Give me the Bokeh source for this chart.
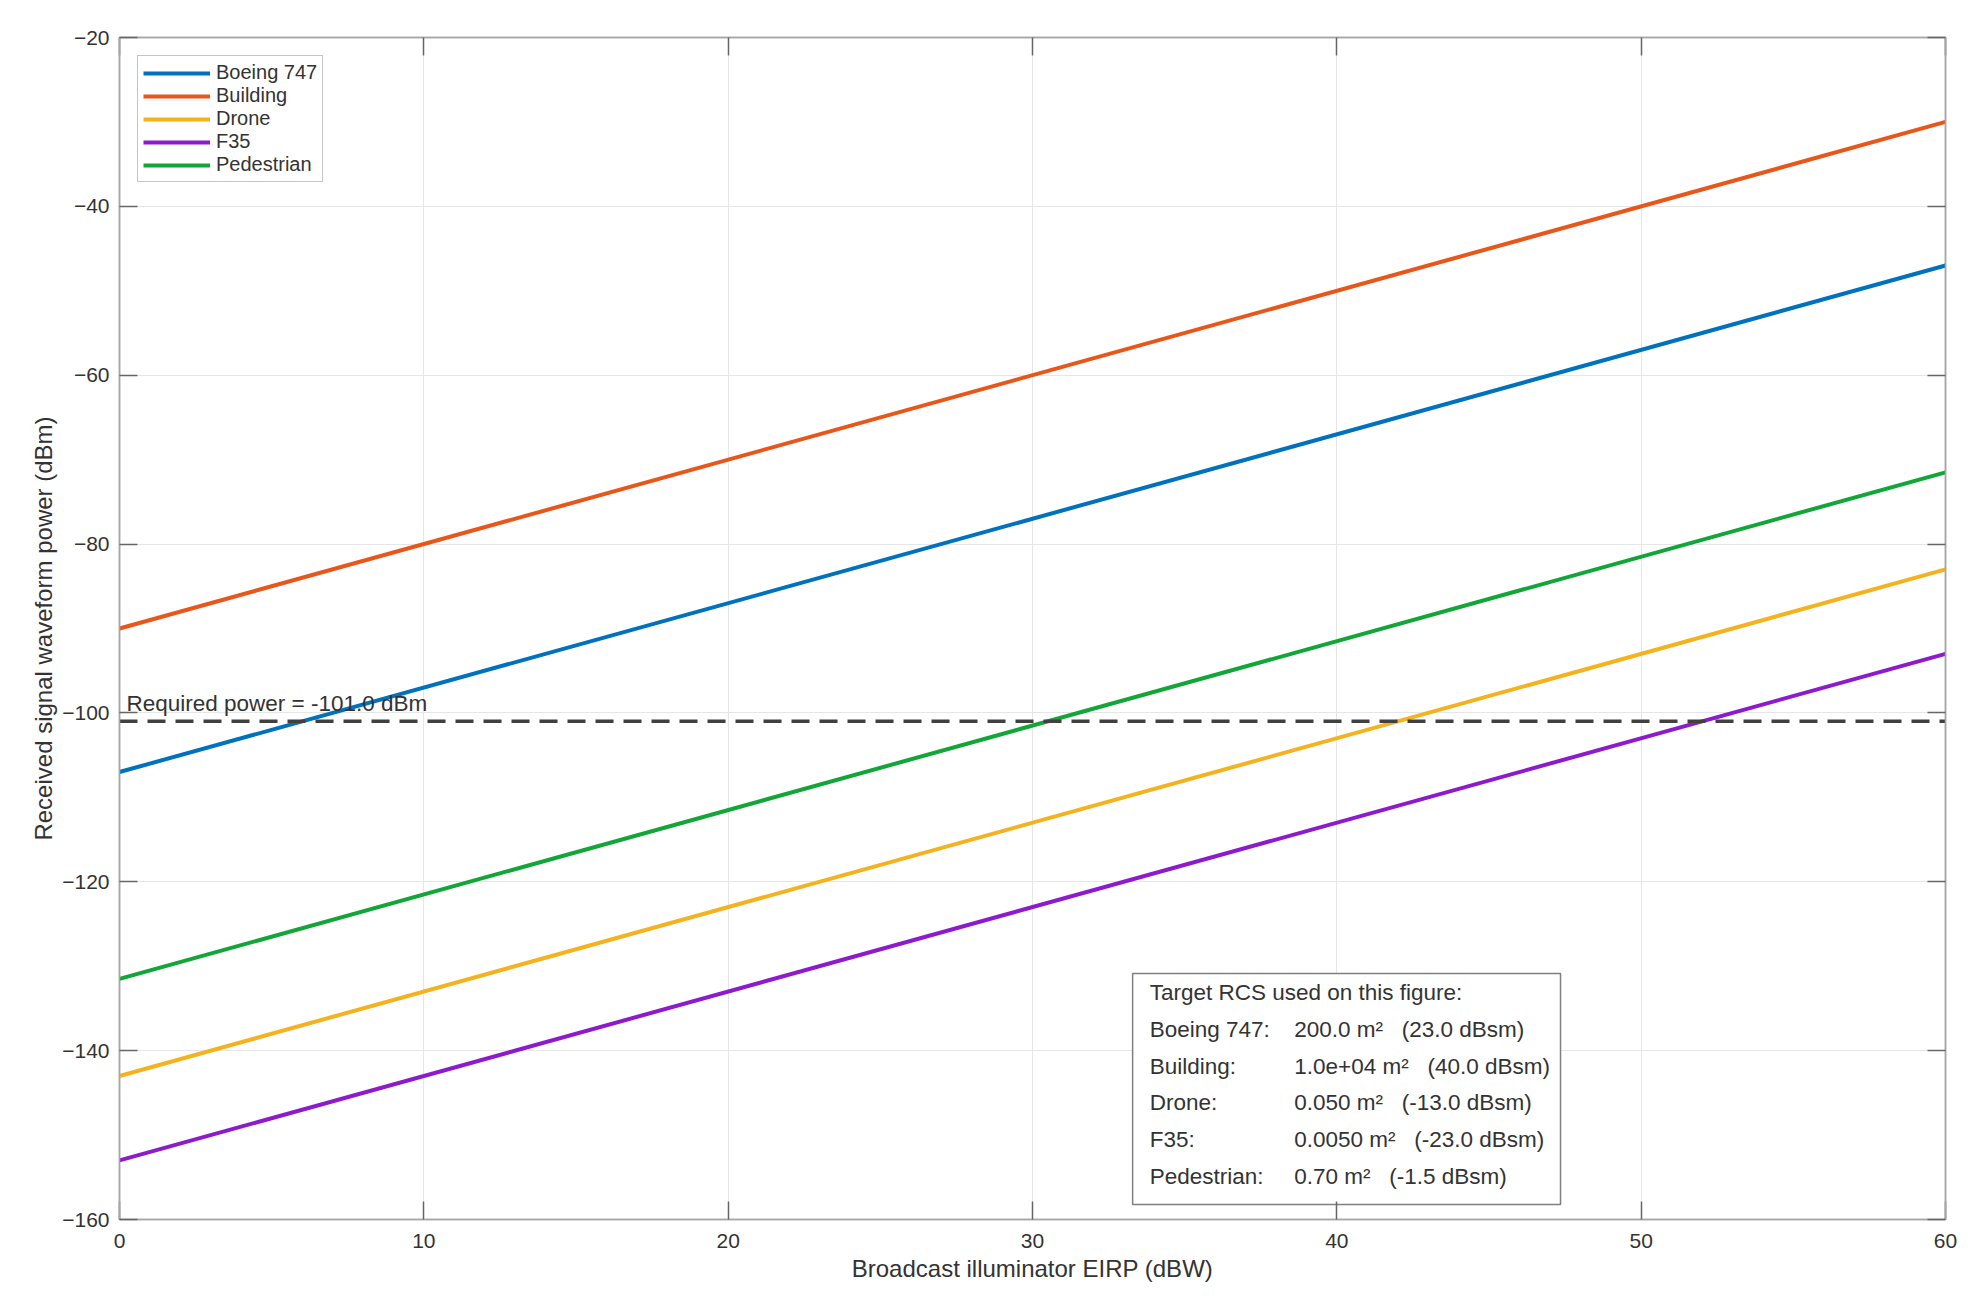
from bokeh.plotting import figure
from bokeh.models import Range1d, FixedTicker, LinearAxis, Legend, LegendItem, CustomJSTickFormatter
from bokeh.core.properties import value
from bokeh.embed import file_html
from bokeh.resources import INLINE

# values
eirp_dbw = [0, 60]
targets = ["Boeing 747", "Building", "Drone", "F35", "Pedestrian"]
boeing_747 = [-107.0, -47.0]
building = [-90.0, -30.0]
drone = [-143.0, -83.0]
f35 = [-153.0, -93.0]
pedestrian = [-131.5, -71.5]
colors = ["#0072BD", "#E8561A", "#F5B21F", "#8E1ACD", "#12A537"]
required_dbm = -101.0

rcs_m2 = ["200.0", "1.0e+04", "0.050", "0.0050", "0.70"]
rcs_dbsm = ["23.0", "40.0", "-13.0", "-23.0", "-1.5"]

xticks = [0, 10, 20, 30, 40, 50, 60]
yticks = [-160, -140, -120, -100, -80, -60, -40, -20]

FONT = "Liberation Sans"
TXT = "#333333"
AX = "#A6A6A6"

p = figure(width=1959, height=1285, x_range=Range1d(0, 60), y_range=Range1d(-160, -20),
           x_axis_label="Broadcast illuminator EIRP (dBW)",
           y_axis_label="Received signal waveform power (dBm)",
           output_backend="svg", toolbar_location=None,
           min_border_left=119, min_border_top=37, min_border_right=14, min_border_bottom=66)
p.outline_line_color = AX
p.outline_line_width = 1.5

for ax in (p.xaxis[0], p.yaxis[0]):
    ax.axis_line_color = AX
    ax.axis_line_width = 1.5
    ax.major_tick_in = 18
    ax.major_tick_out = 0
    ax.minor_tick_line_color = None
    ax.major_tick_line_color = "#666666"
    ax.major_tick_line_width = 1.5
    ax.major_label_text_font = FONT
    ax.major_label_text_font_size = "21px"
    ax.major_label_text_color = TXT
    ax.axis_label_text_font = FONT
    ax.axis_label_text_font_size = "24px"
    ax.axis_label_text_font_style = "normal"
    ax.axis_label_text_color = TXT
p.xaxis.major_label_standoff = 14
p.xaxis.axis_label_standoff = 4
p.yaxis.major_label_standoff = 10
p.yaxis.axis_label_standoff = 2
p.xaxis.ticker = FixedTicker(ticks=xticks)
p.yaxis.ticker = FixedTicker(ticks=yticks)

# tick marks on top and right like a boxed MATLAB axes
for side, ticks in (("above", xticks), ("right", yticks)):
    ax = LinearAxis(ticker=FixedTicker(ticks=ticks),
                    formatter=CustomJSTickFormatter(code="return ''"))
    ax.axis_line_color = AX
    ax.axis_line_width = 1.5
    ax.major_tick_in = 18
    ax.major_tick_out = 0
    ax.minor_tick_line_color = None
    ax.major_tick_line_color = "#666666"
    ax.major_tick_line_width = 1.5
    ax.major_label_text_color = None
    ax.major_label_standoff = 0
    p.add_layout(ax, side)

p.xgrid.ticker = FixedTicker(ticks=xticks)
p.ygrid.ticker = FixedTicker(ticks=yticks)
p.xgrid.grid_line_color = "#E6E6E6"
p.ygrid.grid_line_color = "#E6E6E6"

series = [boeing_747, building, drone, f35, pedestrian]
items = []
for name, ys, c in zip(targets, series, colors):
    r = p.line(eirp_dbw, ys, line_color=c, line_width=4)
    items.append(LegendItem(label=name, renderers=[r]))

# required power threshold
p.line(eirp_dbw, [required_dbm, required_dbm], line_color="#404040", line_width=3.5,
       line_dash="18 10")
p.text(x=[0.23], y=[required_dbm], text=["Required power = %.1f dBm" % required_dbm],
       y_offset=-18, text_font=value(FONT), text_font_size="22.5px", text_color=TXT,
       text_baseline="alphabetic", text_align="left")

legend = Legend(items=items, location="top_left", margin=18, padding=5, spacing=0,
                glyph_width=67, glyph_height=20, label_height=20, label_standoff=6,
                label_text_font=FONT, label_text_font_size="20px", label_text_color=TXT,
                border_line_color="#8C8C8C", border_line_width=1.5,
                background_fill_color="white", background_fill_alpha=1)
p.add_layout(legend, "center")

# RCS text box
box_l, box_r, box_t, box_b = 33.29, 47.35, -130.86, -158.22
p.quad(left=[box_l], right=[box_r], top=[box_t], bottom=[box_b], fill_color="white",
       line_color="#7F7F7F", line_width=1.5)
row_y0, row_dy = -133.1, 4.36
name_x, val_x = 33.85, 38.6
row_ys = [row_y0 - row_dy * (i + 1) for i in range(len(targets))]
p.text(x=[name_x], y=[row_y0], text=["Target RCS used on this figure:"],
       text_font=value(FONT), text_font_size="22.5px", text_color=TXT,
       text_baseline="alphabetic", text_align="left")
p.text(x=[name_x] * len(targets), y=row_ys, text=[t + ":" for t in targets],
       text_font=value(FONT), text_font_size="22.5px", text_color=TXT,
       text_baseline="alphabetic", text_align="left")
p.text(x=[val_x] * len(targets), y=row_ys,
       text=["%s m\u00b2\u00a0\u00a0\u00a0(%s dBsm)" % (a, d) for a, d in zip(rcs_m2, rcs_dbsm)],
       text_font=value(FONT), text_font_size="22.5px", text_color=TXT,
       text_baseline="alphabetic", text_align="left")

open("out.html", "w").write(file_html(p, INLINE))
